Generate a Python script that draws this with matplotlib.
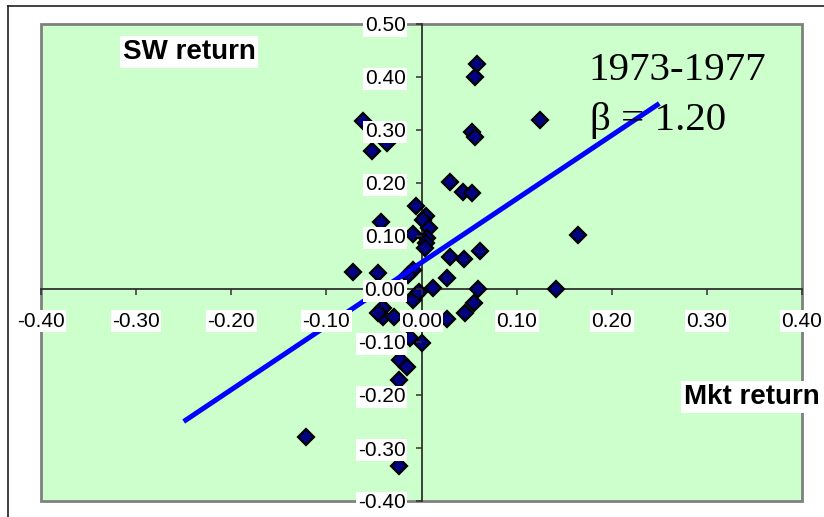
import matplotlib
matplotlib.use("Agg")
import matplotlib.pyplot as plt
from matplotlib.lines import Line2D
import numpy as np

plt.rcParams['font.family'] = ['Liberation Sans', 'DejaVu Sans']

# Monthly returns
mkt_ret = [0.058, 0.056, 0.053, 0.056, 0.125, -0.061, -0.036, -0.052, 0.030, 0.044,
           0.053, -0.006, 0.005, 0.002, 0.008, -0.009, 0.006, 0.005, 0.004, 0.030,
           0.045, 0.061, -0.043, -0.072, -0.046, -0.009, -0.014, 0.027, 0.012, 0.059,
           0.055, 0.046, 0.027, -0.006, -0.009, -0.040, -0.040, -0.029, -0.012, 0.000,
           -0.023, -0.015, -0.024, -0.121, -0.024, 0.165, 0.141, -0.003, -0.046]
sw_ret = [0.425, 0.400, 0.296, 0.287, 0.319, 0.317, 0.275, 0.260, 0.202, 0.183,
          0.181, 0.157, 0.138, 0.130, 0.115, 0.104, 0.096, 0.087, 0.077, 0.060,
          0.057, 0.072, 0.126, 0.032, 0.030, 0.036, 0.026, 0.021, 0.002, 0.000,
          -0.026, -0.045, -0.057, -0.011, -0.021, -0.036, -0.053, -0.053, -0.092, -0.102,
          -0.134, -0.147, -0.172, -0.279, -0.334, 0.102, 0.000, -0.006, -0.045]

beta = 1.20
alpha = 0.05
fit_x = np.array([-0.25, 0.25])

x_ticks = [-0.40, -0.30, -0.20, -0.10, 0.00, 0.10, 0.20, 0.30, 0.40]
y_ticks = [-0.40, -0.30, -0.20, -0.10, 0.00, 0.10, 0.20, 0.30, 0.40, 0.50]
x_tick_labels = ["-0.40", "-0.30", "-0.20", "-0.10", "0.00", "0.10", "0.20", "0.30", "0.40"]
y_tick_labels = ["-0.40", "-0.30", "-0.20", "-0.10", "0.00", "0.10", "0.20", "0.30", "0.40", "0.50"]

W, H = 824, 517
fig = plt.figure(figsize=(W / 100, H / 100), dpi=100)
fig.patch.set_facecolor('white')

# outer chart border
fig.add_artist(Line2D([8 / W, 8 / W], [0, 1 - 6 / H], color='#202020', lw=1.2))
fig.add_artist(Line2D([8 / W, 1], [1 - 6 / H, 1 - 6 / H], color='#202020', lw=1.2))

ax = fig.add_axes([41 / W, 1 - 501 / H, (802 - 41) / W, (501 - 24) / H])
ax.set_facecolor('#CCFFCC')
ax.patch.set_edgecolor('#808080')
ax.patch.set_linewidth(2)

ax.set_xlim(-0.4, 0.4)
ax.set_ylim(-0.4, 0.5)

ax.plot(fit_x, alpha + beta * fit_x, color='#0000FF', lw=3.6, solid_capstyle='butt', zorder=3)
ax.plot(mkt_ret, sw_ret, linestyle='none', marker='D', ms=8.3, mfc='#000080',
        mec='black', mew=1.6, zorder=2)

for s in ['top', 'right']:
    ax.spines[s].set_visible(False)
for s in ['left', 'bottom']:
    ax.spines[s].set_position(('data', 0))
    ax.spines[s].set_color('#303030')
    ax.spines[s].set_linewidth(1.3)
    ax.spines[s].set_zorder(1.5)

ax.set_xticks(x_ticks)
ax.set_xticklabels(x_tick_labels)
ax.set_yticks(y_ticks)
ax.set_yticklabels(y_tick_labels)
ax.tick_params(axis='x', direction='out', length=4.5, width=1.1, color='#303030',
               labelsize=15, pad=12)
ax.tick_params(axis='y', direction='out', length=4.5, width=1.1, color='#303030',
               labelsize=15, pad=7)
for lbl in ax.get_xticklabels() + ax.get_yticklabels():
    lbl.set_bbox(dict(facecolor='white', edgecolor='none', pad=1.0))
ax.xaxis.set_zorder(4)
ax.yaxis.set_zorder(4)

fig.text(189 / W, 1 - 52 / H, "SW return", fontsize=20, fontweight='bold',
         ha='center', va='center',
         bbox=dict(facecolor='white', edgecolor='none', pad=2))
fig.text(752 / W, 1 - 397 / H, "Mkt return", fontsize=20, fontweight='bold',
         ha='center', va='center',
         bbox=dict(facecolor='white', edgecolor='none', pad=2))

fig.text(588 / W, 1 - 80 / H, "1973-1977", fontsize=29.5, family=['Liberation Serif', 'DejaVu Serif'],
         ha='left', va='baseline', zorder=0.5)
fig.text(590 / W, 1 - 130 / H, "β = 1.20", fontsize=29.5, family=['Liberation Serif', 'DejaVu Serif'],
         ha='left', va='baseline', zorder=0.5)

fig.savefig("out.png", dpi=100)
